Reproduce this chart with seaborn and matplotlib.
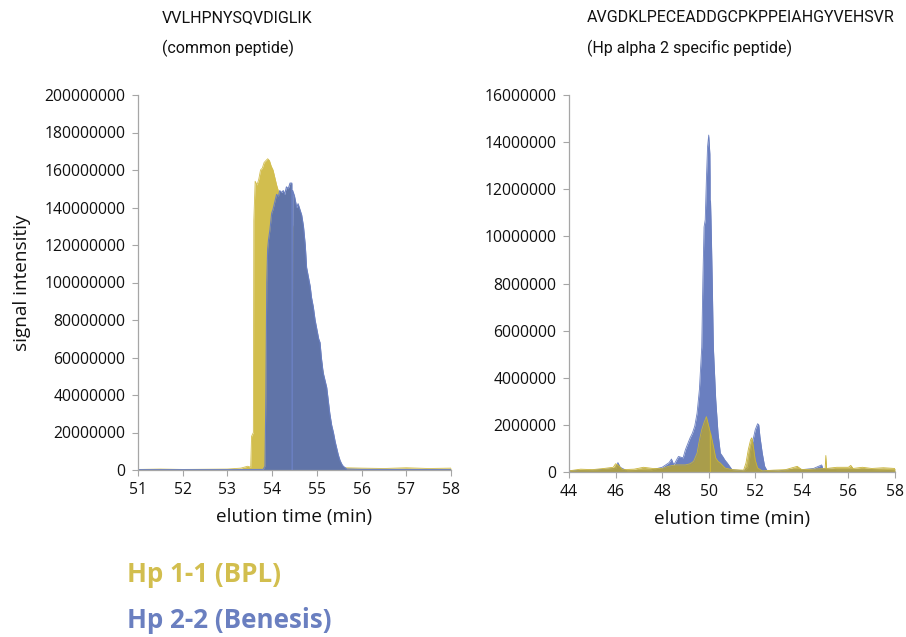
import numpy as np
import seaborn as sns
import matplotlib.pyplot as plt
from matplotlib.ticker import FuncFormatter

# VVLHPNYSQVDIGLIK (common peptide), intensities in millions
left_t_bpl = [51.0, 51.5, 52.0, 52.5, 53.0, 53.3, 53.45, 53.52, 53.54, 53.58, 53.59, 53.62,
              53.66, 53.7, 53.74, 53.78, 53.82, 53.86, 53.9, 53.94, 53.98, 54.02, 54.06,
              54.1, 54.15, 54.2, 54.3, 54.4, 54.45, 54.5, 54.6, 54.7, 54.8, 54.9, 55.0,
              55.1, 55.2, 55.3, 55.4, 55.5, 55.55, 55.6, 56.0, 56.5, 57.0, 57.5, 58.0]
left_v_bpl = [0.3, 0.5, 0.3, 0.4, 0.5, 1.0, 2.0, 1.5, 18, 20, 133, 154,
              152, 155, 160, 161, 164, 165, 166, 165, 162, 160, 156,
              152, 148, 145, 140, 135, 131, 128, 120, 110, 98, 86, 72,
              58, 42, 27, 12, 3, 2, 1.2, 1.0, 0.8, 1.2, 0.8, 1.0]

left_t_ben = [51.0, 53.0, 53.8, 53.84, 53.86, 53.88, 53.9, 53.92, 53.95, 53.99, 54.02, 54.06,
              54.1, 54.14, 54.17, 54.21, 54.25, 54.28, 54.32, 54.36, 54.4, 54.44, 54.45,
              54.46, 54.5, 54.55, 54.58, 54.62, 54.66, 54.7, 54.74, 54.77, 54.81, 54.85,
              54.88, 54.92, 54.96, 55.0, 55.04, 55.07, 55.1, 55.14, 55.18, 55.22, 55.26,
              55.29, 55.33, 55.37, 55.41, 55.44, 55.48, 55.52, 55.56, 55.59, 55.67, 56.0, 58.0]
left_v_ben = [0.2, 0.2, 0.3, 2, 40, 100, 118, 123, 128, 137, 139, 143,
              147, 146, 149, 148, 149, 147, 151, 150, 153, 153, 0,
              149, 146, 140, 142, 139, 136, 130, 120, 108, 103, 98,
              92, 87, 80, 75, 70, 68, 60, 52, 48, 44, 36,
              30, 24, 20, 15, 12, 8, 5, 3, 2, 0.5, 0.3, 0.2]

# AVGDKLPECEADDGCPKPPEIAHGYVEHSVR (Hp alpha 2 specific peptide), in millions
right_t_bpl = [44.0, 44.5, 45.0, 45.5, 45.9, 46.0, 46.1, 46.3, 46.8, 47.2, 47.6, 48.0,
               48.3, 48.6, 49.0, 49.2, 49.35, 49.5, 49.6, 49.7, 49.8, 49.9, 50.0, 50.06,
               50.07, 50.08, 50.2, 50.3, 50.4, 50.5, 50.7, 51.0, 51.5, 51.6, 51.7, 51.8,
               51.85, 51.9, 52.0, 52.1, 52.3, 52.8, 53.3, 53.8, 54.0, 54.5, 55.0, 55.03,
               55.06, 55.5, 56.0, 56.1, 56.2, 56.6, 57.0, 57.5, 58.0]
right_v_bpl = [0.05, 0.12, 0.1, 0.15, 0.2, 0.35, 0.3, 0.1, 0.12, 0.2, 0.15, 0.15,
               0.25, 0.3, 0.3, 0.35, 0.45, 0.8, 1.35, 1.8, 2.1, 2.35, 1.95, 1.7,
               0, 1.65, 1.1, 0.6, 0.45, 0.38, 0.17, 0.1, 0.08, 0.38, 0.95, 1.37,
               1.45, 1.2, 0.5, 0.17, 0.05, 0.08, 0.1, 0.24, 0.1, 0.12, 0.15, 0.7,
               0.15, 0.2, 0.2, 0.28, 0.15, 0.2, 0.15, 0.18, 0.15]

right_t_ben = [44.0, 45.0, 46.0, 46.1, 46.2, 46.5, 47.5, 48.0, 48.3, 48.4, 48.5, 48.7,
               48.9, 49.0, 49.1, 49.2, 49.3, 49.4, 49.5, 49.6, 49.7, 49.75, 49.8, 49.85,
               49.9, 49.95, 50.0, 50.05, 50.06, 50.07, 50.08, 50.1, 50.15, 50.2, 50.3,
               50.4, 50.5, 50.6, 50.7, 50.8, 50.9, 51.0, 51.5, 51.7, 51.8, 51.9, 52.0,
               52.1, 52.15, 52.2, 52.3, 52.4, 52.5, 53.0, 53.5, 54.0, 54.5, 54.85, 54.9,
               55.5, 56.0, 57.0, 58.0]
right_v_ben = [0.05, 0.08, 0.15, 0.4, 0.2, 0.05, 0.08, 0.2, 0.4, 0.55, 0.3, 0.66,
               0.6, 0.95, 1.2, 1.45, 1.65, 1.95, 2.5, 3.5, 5.3, 8.2, 10.4, 10.7,
               12.4, 13.8, 14.3, 13.5, 12.5, 0, 11.5, 10.7, 8.2, 5.3, 3.1,
               1.65, 0.8, 0.66, 0.5, 0.38, 0.24, 0.1, 0.05, 0.2, 0.9, 1.35, 1.8,
               2.05, 2.0, 1.5, 0.8, 0.25, 0.07, 0.05, 0.1, 0.1, 0.15, 0.3, 0.15,
               0.1, 0.1, 0.1, 0.05]

series_names = ['Hp 1-1 (BPL)', 'Hp 2-2 (Benesis)']
yellow = '#d2be4e'
blue = '#6a7fc0'

sns.set_style('white')
plt.rcParams['font.family'] = ['Open Sans', 'DejaVu Sans']

fig = plt.figure(figsize=(9.06, 6.37), dpi=100)
ax1 = fig.add_axes([138 / 906, 1 - 470 / 637, 313 / 906, 375 / 637])
ax2 = fig.add_axes([569 / 906, 1 - 472 / 637, 326 / 906, 377 / 637])

# left: yellow behind, blue in front
t = np.array(left_t_bpl); v = np.array(left_v_bpl) * 1e6
ax1.fill_between(t, v, color=yellow, lw=0, zorder=1)
sns.lineplot(x=t, y=v, ax=ax1, color=yellow, lw=0.6, zorder=1.1)
t = np.array(left_t_ben); v = np.array(left_v_ben) * 1e6
ax1.fill_between(t, v, color='#6074a8', lw=0, zorder=2)
sns.lineplot(x=t, y=v, ax=ax1, color=blue, lw=0.8, zorder=2.1)

# right: blue behind, yellow in front (semi transparent)
t = np.array(right_t_ben); v = np.array(right_v_ben) * 1e6
ax2.fill_between(t, v, color=blue, lw=0, zorder=1)
sns.lineplot(x=t, y=v, ax=ax2, color=blue, lw=0.6, zorder=1.1)
t = np.array(right_t_bpl); v = np.array(right_v_bpl) * 1e6
ax2.fill_between(t, v, color='#b9a52e', alpha=0.8, lw=0, zorder=2)
sns.lineplot(x=t, y=v, ax=ax2, color='#c9b43a', lw=0.6, zorder=2.1)

fmt = FuncFormatter(lambda val, pos: f'{val:.0f}')
for ax, xlim, xstep, ymax, ystep in [(ax1, (51, 58), 1, 2e8, 2e7), (ax2, (44, 58), 2, 1.6e7, 2e6)]:
    ax.set_xlim(*xlim)
    ax.set_ylim(0, ymax)
    ax.set_xticks(np.arange(xlim[0], xlim[1] + 0.1, xstep))
    ax.set_yticks(np.arange(0, ymax + 1, ystep))
    ax.yaxis.set_major_formatter(fmt)
    ax.xaxis.set_major_formatter(fmt)
    for s in ['top', 'right']:
        ax.spines[s].set_visible(False)
    for s in ['left', 'bottom']:
        ax.spines[s].set_color('#a6a6a6')
        ax.spines[s].set_linewidth(0.9)
    ax.tick_params(axis='both', which='major', direction='out', length=4, width=0.8,
                   color='#a6a6a6', labelsize=11.3, labelcolor='#111111',
                   left=True, bottom=True)
    ax.tick_params(axis='y', pad=5)
    ax.tick_params(axis='x', pad=5)
    ax.set_xlabel('elution time (min)', fontsize=13.6, color='#111111', labelpad=7)
    ax.set_ylabel('')

ax1.set_ylabel('signal intensitiy', fontsize=13.6, color='#111111', labelpad=10)

title_kw = dict(fontsize=11.5, family=['Roboto', 'DejaVu Sans'],
                va='center', ha='left', color='#111111')
fig.text(162 / 906, 1 - 18 / 637, 'VVLHPNYSQVDIGLIK', **title_kw)
fig.text(162 / 906, 1 - 48 / 637, '(common peptide)', **title_kw)
fig.text(587 / 906, 1 - 18 / 637, 'AVGDKLPECEADDGCPKPPEIAHGYVEHSVR', **title_kw)
fig.text(587 / 906, 1 - 48 / 637, '(Hp alpha 2 specific peptide)', **title_kw)

fig.text(127 / 906, 1 - 575 / 637, series_names[0], fontsize=18.7, fontweight='bold',
         color=yellow, va='center', ha='left')
fig.text(127 / 906, 1 - 620 / 637, series_names[1], fontsize=18.7, fontweight='bold',
         color=blue, va='center', ha='left')

fig.savefig('out.png', dpi=100)
